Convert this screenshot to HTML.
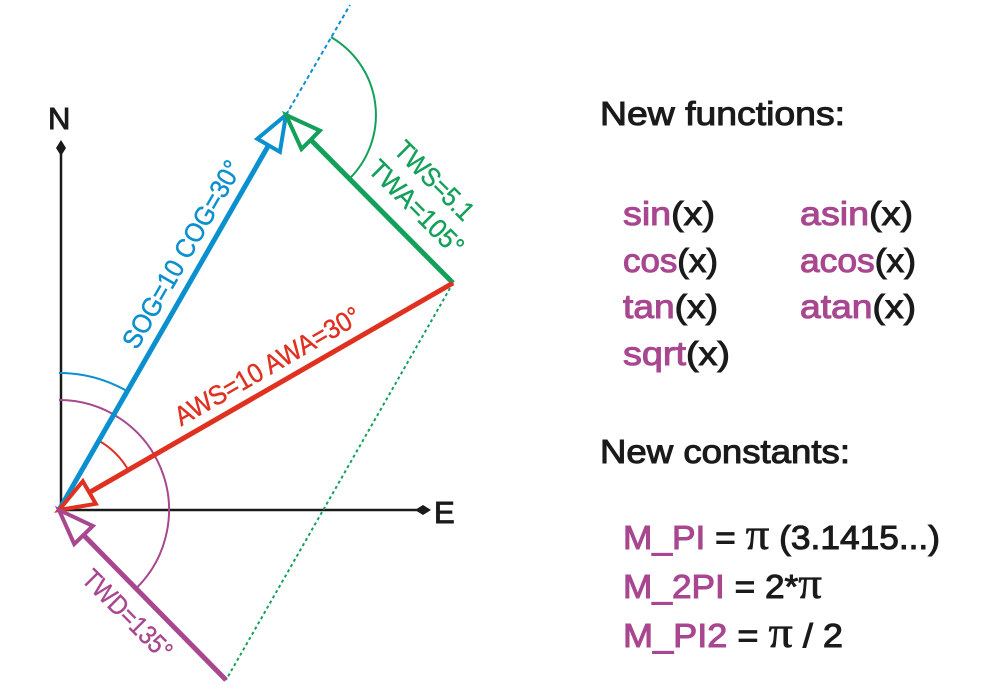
<!DOCTYPE html>
<html><head><meta charset="utf-8"><style>
html,body{margin:0;padding:0;background:#fff;}
svg{display:block;}
text{font-family:"Liberation Sans",sans-serif;}
.r{font-size:33px;fill:#1a1a1a;stroke:#1a1a1a;stroke-width:1px;}
.p{fill:#a8478f;stroke:#a8478f;}
.pi{font-family:"Liberation Serif",serif;font-size:44px;stroke-width:0.6px;}
.lb{font-size:27px;stroke-width:0.4px;}
</style></head><body>
<svg width="988" height="690" viewBox="0 0 988 690" xmlns="http://www.w3.org/2000/svg">
<line x1="61" y1="510" x2="61" y2="150" stroke="#1a1a1a" stroke-width="2.5"/>
<polygon points="61,140 66,148 61,156 56,148" fill="#1a1a1a"/>
<line x1="59" y1="510" x2="418" y2="510" stroke="#1a1a1a" stroke-width="2.5"/>
<polygon points="415,510 423,505 431,510 423,515" fill="#1a1a1a"/>
<text x="48" y="129" style="font-size:31px;fill:#1a1a1a;stroke:#1a1a1a;stroke-width:1px">N</text>
<text x="434" y="523" style="font-size:31px;fill:#1a1a1a;stroke:#1a1a1a;stroke-width:1px">E</text>

<line x1="286" y1="115" x2="350" y2="5" stroke="#0a8fcf" stroke-width="2" stroke-dasharray="4 3"/>
<line x1="453" y1="283" x2="226" y2="680" stroke="#12a05a" stroke-width="2" stroke-dasharray="3 3"/>

<path d="M59,373 A137,137 0 0 1 127.5,391.4" fill="none" stroke="#0a8fcf" stroke-width="2"/>
<path d="M59,400 A110,110 0 0 1 136.8,587.8" fill="none" stroke="#a8478f" stroke-width="2"/>
<path d="M99,440.7 A80,80 0 0 1 128.3,470" fill="none" stroke="#e03020" stroke-width="2"/>
<path d="M331,37.1 A90,90 0 0 1 349.6,178.6" fill="none" stroke="#12a05a" stroke-width="2"/>

<line x1="59" y1="510" x2="268.6" y2="145.3" stroke="#0a8fcf" stroke-width="5"/>
<polygon points="286,115 279.9,151.8 257.3,138.8" fill="#fff" stroke="#0a8fcf" stroke-width="4"/>
<line x1="453" y1="283" x2="310.7" y2="139.8" stroke="#12a05a" stroke-width="5"/>
<polygon points="286,115 319.9,130.6 301.5,149" fill="#fff" stroke="#12a05a" stroke-width="4"/>
<line x1="453" y1="283" x2="89.3" y2="492.5" stroke="#e03020" stroke-width="5"/>
<polygon points="59,510 95.8,503.8 82.8,481.2" fill="#fff" stroke="#e03020" stroke-width="4"/>
<line x1="226" y1="680" x2="83.5" y2="535" stroke="#a8478f" stroke-width="5"/>
<polygon points="59,510 92.8,525.9 74.2,544.1" fill="#fff" stroke="#a8478f" stroke-width="4"/>

<text class="lb" transform="translate(190,259) rotate(-60)" text-anchor="middle" fill="#0a8fcf" stroke="#0a8fcf" textLength="212" lengthAdjust="spacingAndGlyphs">SOG=10  COG=30°</text>
<text class="lb" transform="translate(428,187) rotate(45)" text-anchor="middle" fill="#12a05a" stroke="#12a05a" textLength="100" lengthAdjust="spacingAndGlyphs">TWS=5.1</text>
<text class="lb" transform="translate(410,214) rotate(45)" text-anchor="middle" fill="#12a05a" stroke="#12a05a" textLength="122" lengthAdjust="spacingAndGlyphs">TWA=105°</text>
<text class="lb" transform="translate(272,374) rotate(-30)" text-anchor="middle" fill="#e03020" stroke="#e03020" textLength="210" lengthAdjust="spacingAndGlyphs">AWS=10  AWA=30°</text>
<text class="lb" transform="translate(121,621) rotate(45)" text-anchor="middle" fill="#a8478f" stroke="#a8478f" textLength="115" lengthAdjust="spacingAndGlyphs">TWD=135°</text>

<text class="r" x="600" y="125" textLength="245" lengthAdjust="spacingAndGlyphs">New functions:</text>
<text class="r" x="623" y="225" textLength="92" lengthAdjust="spacingAndGlyphs"><tspan class="p">sin</tspan>(x)</text>
<text class="r" x="800" y="225" textLength="113" lengthAdjust="spacingAndGlyphs"><tspan class="p">asin</tspan>(x)</text>
<text class="r" x="623" y="272" textLength="95" lengthAdjust="spacingAndGlyphs"><tspan class="p">cos</tspan>(x)</text>
<text class="r" x="800" y="272" textLength="116" lengthAdjust="spacingAndGlyphs"><tspan class="p">acos</tspan>(x)</text>
<text class="r" x="623" y="318" textLength="95" lengthAdjust="spacingAndGlyphs"><tspan class="p">tan</tspan>(x)</text>
<text class="r" x="800" y="318" textLength="116" lengthAdjust="spacingAndGlyphs"><tspan class="p">atan</tspan>(x)</text>
<text class="r" x="623" y="365" textLength="107" lengthAdjust="spacingAndGlyphs"><tspan class="p">sqrt</tspan>(x)</text>
<text class="r" x="600" y="463" textLength="250" lengthAdjust="spacingAndGlyphs">New constants:</text>

<text class="r" x="623" y="549" textLength="317" lengthAdjust="spacingAndGlyphs"><tspan class="p">M_PI</tspan> = <tspan class="pi">π</tspan> (3.1415...)</text>
<text class="r" x="623" y="598" textLength="199" lengthAdjust="spacingAndGlyphs"><tspan class="p">M_2PI</tspan> = 2*<tspan class="pi">π</tspan></text>
<text class="r" x="623" y="647" textLength="220" lengthAdjust="spacingAndGlyphs"><tspan class="p">M_PI2</tspan> =  <tspan class="pi">π</tspan> / 2</text>
</svg>
</body></html>
